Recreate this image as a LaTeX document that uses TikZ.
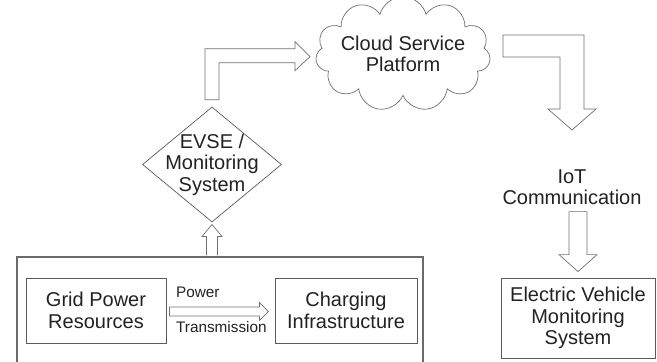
\documentclass[tikz,border=0pt]{standalone}
\usepackage{fontspec}
\setmainfont{Liberation Sans}
\usetikzlibrary{shapes.geometric,shapes.symbols}

\definecolor{ink}{HTML}{222222}
\definecolor{rim}{HTML}{5A5A5A}
\definecolor{siterim}{HTML}{6A6A6A}
\definecolor{fatrim}{HTML}{707070}

\begin{document}
\begin{tikzpicture}[
  x=1pt, y=-1pt,
  box/.style={draw=rim, line width=0.8pt, text=ink, font=\fontsize{20}{21.5}\selectfont, align=center, inner sep=0},
  site/.style={draw=siterim, line width=1.1pt, inner sep=0},
  decision/.style={diamond, draw=rim, line width=0.7pt, text=ink, font=\fontsize{20}{21.5}\selectfont, align=center, inner sep=-14pt},
  service/.style={cloud, cloud puffs=11, aspect=1.9, draw=fatrim, line width=0.7pt, text=ink, font=\fontsize{20}{21.5}\selectfont, align=center, inner sep=-6pt},
  plain/.style={text=ink, font=\fontsize{20}{21.5}\selectfont, align=center, inner sep=0},
  note/.style={text=ink, font=\fontsize{15.3}{17}\selectfont, inner sep=0, anchor=west},
  fat/.style={draw=fatrim, line width=0.7pt, fill=white, line join=miter}
]
\clip (0,0) rectangle (657,362);

\node[site, minimum width=406, minimum height=123] (site) at (220,318.5) {};
\node[box, minimum width=140, minimum height=65] (grid) at (96,310.5) {Grid Power\\Resources};
\node[box, minimum width=142, minimum height=65] (charging) at (346,310.5) {Charging\\Infrastructure};
\node[decision, minimum width=139, minimum height=115] (evse) at (212,164.5) {EVSE /\\Monitoring\\System};
\node[service, minimum width=175, minimum height=94] (cloud) at (403,54) {Cloud Service\\Platform};
\node[plain] (iot) at (572,187) {IoT\\Communication};
\node[box, minimum width=154, minimum height=80] (ev) at (578,318) {Electric Vehicle\\Monitoring\\System};

\node[note] (powertop) at (176,292) {Power};
\node[note] (powerbot) at (176,327) {Transmission};

% block arrows
\draw[fat, shift={(grid.east)}] (3,-3.5) -- (93,-3.5) -- (93,-8) -- (102,1) -- (93,10) -- (93,5.5) -- (3,5.5) -- cycle;
\draw[fat, shift={(evse.south |- site.north)}] (-5.5,-1) -- (-5.5,-20) -- (-10,-20) -- (0,-32) -- (10,-20) -- (5.5,-20) -- (5.5,-1);
\draw[fat, shift={(evse.north)}] (-7,-7) -- (-7,-58) -- (83,-58) -- (83,-65) -- (98,-50) -- (83,-36) -- (83,-44) -- (7,-44) -- (7,-7) -- cycle;
\draw[fat, shift={(cloud.center)}] (100,-19) -- (181,-19) -- (181,55) -- (193,55) -- (169,76) -- (145,55) -- (157,55) -- (157,3) -- (100,3) -- cycle;
\draw[fat, shift={(ev.north)}] (-9,-66) -- (9,-66) -- (9,-23) -- (19,-23) -- (0,-6) -- (-19,-23) -- (-9,-23) -- cycle;

\end{tikzpicture}
\end{document}
